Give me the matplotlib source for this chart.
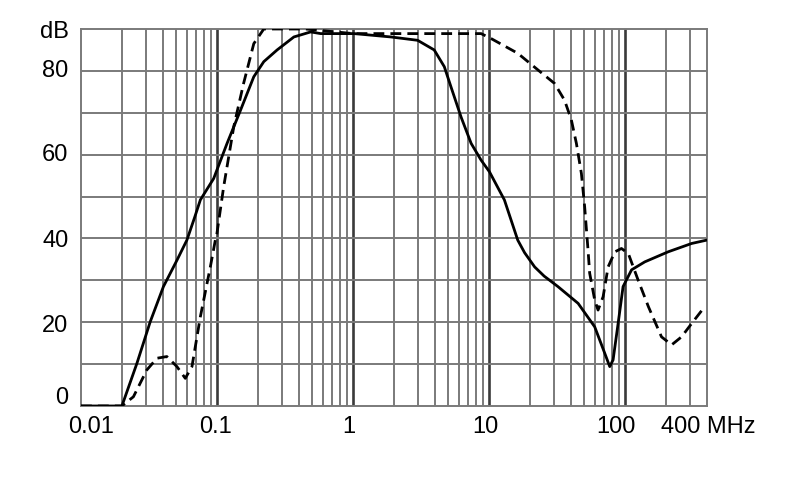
import matplotlib
matplotlib.use("Agg")
import matplotlib.pyplot as plt
import matplotlib.transforms as mtransforms

# ---- data (frequency in MHz, attenuation in dB) ----
solid_f = [0.01, 0.02, 0.0258, 0.0323, 0.0404, 0.0508, 0.0601, 0.0685, 0.0755, 0.0946,
           0.1187, 0.149, 0.1866, 0.221, 0.277, 0.368, 0.489, 0.579, 1.02, 1.9,
           2.99, 3.96, 4.7, 5.26, 6.24, 7.4, 8.76, 10.1, 13.0, 16.3, 18.3, 21.7, 25.5,
           32.2, 45.3, 60.0, 71.1, 77.4, 81.9, 89.2, 97.0, 112, 140, 208, 310, 400]
solid_db = [0.0, 0.0, 10.2, 20.1, 28.5, 34.8, 39.6, 45.0, 49.2, 54.3,
            62.7, 70.6, 78.6, 82.2, 85.0, 88.1, 89.3, 88.9, 88.9, 88.1,
            87.3, 85.0, 81.0, 76.2, 69.0, 62.7, 58.7, 55.9, 49.2, 39.6, 36.6, 33.2, 31.0,
            28.5, 24.5, 18.9, 12.6, 9.4, 11.0, 19.7, 28.5, 32.5, 34.4, 36.8, 38.8, 39.6]

dashed_f = [0.01, 0.02, 0.0243, 0.0305, 0.0362, 0.0428, 0.0508, 0.0585, 0.0655,
            0.0755, 0.0894, 0.0973, 0.1, 0.112, 0.133, 0.157, 0.1866, 0.221,
            0.45, 1.0, 8.76, 10.4, 16.3, 23.0, 30.4, 36.0, 40.4, 44.0, 47.9, 50.6,
            53.6, 55.1, 60.0, 63.5, 69.2, 75.3, 84.4, 94.4, 106, 125, 149, 186,
            221, 261, 310, 378]
dashed_db = [0.0, 0.0, 2.2, 8.6, 11.4, 11.8, 9.4, 6.6, 9.4,
             21.3, 33.2, 39.6, 41.2, 52.3, 66.7, 77.0, 86.5, 90.0,
             90.0, 88.9, 88.9, 87.7, 84.2, 80.2, 77.0, 73.0, 68.3, 62.7, 55.5, 47.6,
             37.2, 31.7, 25.3, 22.9, 26.1, 33.2, 36.8, 37.6, 36.4, 30.1, 23.7, 16.5,
             14.6, 16.5, 19.7, 23.3]

x_tick_labels = ["0.01", "0.1", "1", "10", "100", "400 MHz"]
x_label_pos = [0.0118, 0.097, 0.93, 9.5, 86.0, 185.0]
y_tick_labels = ["0", "20", "40", "60", "80", "dB"]
y_label_pos = [1.8, 19.0, 39.3, 60.0, 80.0, 89.2]

plt.rcParams['font.family'] = ['Liberation Sans', 'DejaVu Sans']

fig = plt.figure(figsize=(7.9, 4.99), dpi=100)
ax = fig.add_axes([0.1025, 0.1864, 0.7921, 0.7555])
ax.set_xscale('log')
ax.set_xlim(0.01, 400)
ax.set_ylim(0, 90)

# grid
minor_color = "#7a7a7a"
for dec in [0.01, 0.1, 1, 10, 100]:
    for m in range(2, 10):
        v = dec * m
        if v < 400:
            ax.axvline(v, color=minor_color, lw=1.4, zorder=1)
for dec in [0.1, 1, 10, 100]:
    ax.axvline(dec, color="#3a3a3a", lw=1.9, zorder=1)
for yv in range(10, 90, 10):
    ax.axhline(yv, color=minor_color, lw=1.4, zorder=1)
for s in ax.spines.values():
    s.set_color(minor_color)
    s.set_linewidth(1.4)

ax.plot(solid_f, solid_db, color="black", lw=2.0, zorder=3,
        solid_joinstyle='round')
ax.plot(dashed_f, dashed_db, color="black", lw=2.0, zorder=3,
        dashes=(3.9, 2.2))

ax.set_xticks([])
ax.set_yticks([])
ax.minorticks_off()

tx = mtransforms.blended_transform_factory(ax.transData, ax.transAxes)
for lab, pos in zip(x_tick_labels, x_label_pos):
    ha = 'left' if 'MHz' in lab else 'center'
    ax.text(pos, -0.055, lab, transform=tx, ha=ha, va='center', fontsize=17,
            clip_on=False)
ty = mtransforms.blended_transform_factory(ax.transAxes, ax.transData)
for lab, pos in zip(y_tick_labels, y_label_pos):
    ax.text(-0.02, pos, lab, transform=ty, ha='right', va='center', fontsize=17,
            clip_on=False)

fig.savefig("out.png", dpi=100, facecolor="white")
